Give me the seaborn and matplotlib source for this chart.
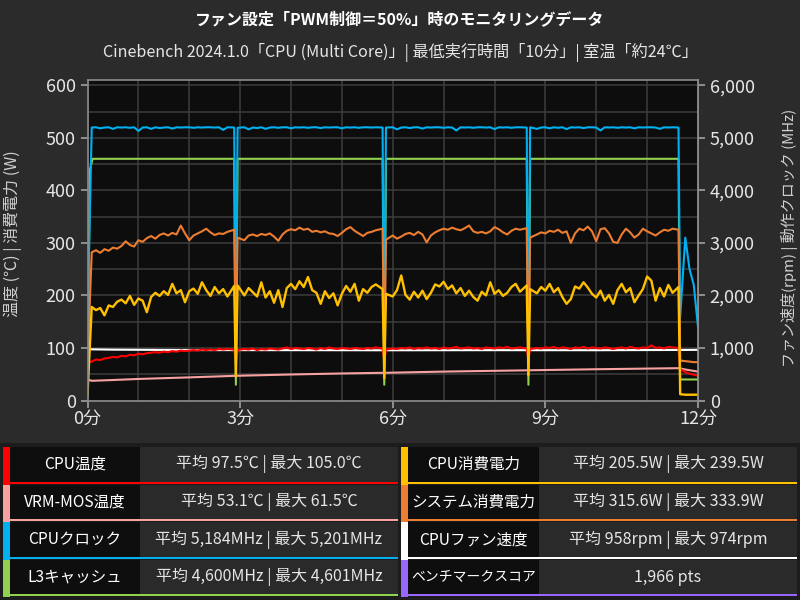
import numpy as np
import matplotlib
matplotlib.use("Agg")
import matplotlib.pyplot as plt
import seaborn as sns
from matplotlib.patches import Rectangle

# --- data (about 5 s sampling, 0-720 s) ---
time_sec = np.arange(0, 725, 5).astype(float)
# samples around the short load gaps and the end were logged closer together
for i, t in [(34, 173), (36, 177), (69, 348), (71, 352), (103, 518), (105, 522),
             (139, 697), (140, 699)]:
    time_sec[i] = t

sys_power = [
    72, 282, 286, 281, 288, 285, 291, 289, 294, 303, 296, 293, 305, 302, 309, 313, 308, 315, 318, 314,
    319, 316, 333, 318, 305, 314, 318, 322, 327, 320, 315, 318, 317, 321, 325, 72, 310, 305, 314, 316,
    313, 317, 315, 318, 312, 304, 316, 323, 326, 324, 329, 325, 327, 321, 323, 320, 322, 318, 317, 313,
    319, 326, 330, 323, 318, 313, 319, 321, 324, 327, 70, 306, 314, 308, 312, 317, 319, 315, 321, 316,
    301, 314, 320, 324, 327, 325, 329, 326, 324, 328, 333, 322, 319, 321, 318, 322, 330, 326, 320, 316,
    323, 327, 325, 328, 74, 310, 316, 320, 318, 323, 321, 325, 319, 322, 300, 318, 327, 324, 331, 322,
    303, 326, 328, 318, 302, 300, 316, 327, 320, 310, 316, 327, 322, 318, 314, 320, 325, 323, 327, 325,
    76, 75, 74, 73, 73]

cpu_power = [
    10, 178, 172, 176, 162, 181, 178, 188, 192, 185, 199, 182, 194, 190, 168, 197, 205, 199, 208, 201,
    222, 204, 210, 187, 208, 213, 203, 225, 210, 199, 216, 204, 212, 198, 218, 45, 219, 200, 214, 206,
    198, 225, 196, 208, 186, 210, 178, 214, 222, 212, 227, 216, 235, 210, 205, 184, 208, 195, 204, 181,
    203, 218, 207, 222, 190, 212, 205, 216, 221, 212, 42, 203, 198, 210, 238, 201, 192, 207, 196, 209,
    193, 205, 221, 217, 226, 212, 219, 204, 214, 199, 209, 197, 190, 207, 200, 225, 203, 210, 199, 205,
    216, 222, 207, 219, 48, 212, 204, 216, 209, 222, 206, 214, 197, 184, 193, 217, 213, 225, 215, 203,
    196, 209, 190, 201, 184, 210, 222, 206, 214, 187, 200, 212, 236, 228, 190, 214, 198, 220, 205, 216,
    12, 11, 11, 11, 11]

cpu_temp = [
    73, 74, 78, 77, 80, 81, 83, 82, 85, 84, 87, 86, 89, 88, 90, 91, 92, 91, 93, 92,
    94, 93, 95, 94, 95, 96, 95, 97, 96, 97, 96, 98, 97, 98, 97, 75, 96, 98, 97, 99,
    96, 98, 97, 99, 98, 97, 99, 101, 98, 100, 99, 98, 100, 99, 97, 100, 98, 101, 99, 98,
    100, 99, 98, 100, 99, 98, 100, 99, 101, 99, 76, 97, 99, 98, 100, 99, 101, 98, 100, 99,
    101, 99, 100, 98, 101, 99, 100, 102, 99, 100, 101, 99, 100, 98, 101, 100, 99, 101, 100, 102,
    99, 100, 101, 99, 78, 98, 100, 99, 101, 100, 102, 99, 101, 100, 98, 101, 100, 102, 99, 101,
    100, 99, 101, 100, 98, 100, 101, 99, 102, 100, 99, 101, 100, 105, 100, 101, 99, 102, 101, 100,
    60, 54, 51, 49, 47]

cpu_clock = [
    1500, 5195, 5200, 5180, 5195, 5200, 5170, 5200, 5195, 5200, 5190, 5200, 5130, 5195, 5200, 5170, 5200, 5185, 5195, 5200,
    5175, 5200, 5195, 5200, 5200, 5190, 5200, 5195, 5200, 5200, 5195, 5200, 5150, 5200, 5195, 700, 5190, 5200, 5160, 5195,
    5185, 5200, 5170, 5195, 5200, 5190, 5200, 5200, 5180, 5200, 5195, 5200, 5190, 5200, 5200, 5185, 5200, 5195, 5200, 5200,
    5180, 5200, 5195, 5200, 5190, 5200, 5200, 5195, 5200, 5195, 650, 5195, 5200, 5160, 5195, 5200, 5185, 5200, 5200, 5175,
    5200, 5195, 5200, 5200, 5190, 5200, 5195, 5140, 5200, 5195, 5200, 5190, 5200, 5200, 5195, 5200, 5165, 5200, 5195, 5200,
    5190, 5200, 5200, 5195, 600, 5200, 5170, 5195, 5200, 5180, 5200, 5190, 5200, 5165, 5200, 5195, 5200, 5185, 5200, 5200,
    5195, 5140, 5200, 5195, 5200, 5190, 5200, 5195, 5200, 5180, 5200, 5195, 5200, 5200, 5195, 5170, 5200, 5195, 5200, 5195,
    1600, 3100, 2500, 2200, 1400]

l3_time = [0, 3, 6, 173, 175, 177, 348, 350, 352, 518, 520, 522, 697, 699, 720]
l3_clock = [800, 4400, 4600, 4600, 300, 4600, 4600, 300, 4600, 4600, 300, 4600, 4600, 400, 400]

fan_time = [0, 30, 120, 240, 360, 480, 600, 700, 720]
fan_rpm = [975, 968, 960, 958, 956, 958, 957, 962, 964]

vrm_time = [0, 5, 30, 60, 120, 175, 240, 300, 360, 420, 480, 540, 600, 697, 705, 720]
vrm_temp = [40, 37.5, 39, 41, 44, 47, 49.5, 51.5, 53, 55, 56.5, 58, 59.5, 61.5, 59, 55]

x_ticks = [0, 3, 6, 9, 12]
x_labels = ["0分", "3分", "6分", "9分", "12分"]

left_names = ["CPU温度", "VRM-MOS温度", "CPUクロック", "L3キャッシュ"]
left_values = ["平均 97.5℃ | 最大 105.0℃", "平均 53.1℃ | 最大 61.5℃",
               "平均 5,184MHz | 最大 5,201MHz", "平均 4,600MHz | 最大 4,601MHz"]
right_names = ["CPU消費電力", "システム消費電力", "CPUファン速度", "ベンチマークスコア"]
right_values = ["平均 205.5W | 最大 239.5W", "平均 315.6W | 最大 333.9W",
                "平均 958rpm | 最大 974rpm", "1,966 pts"]

c_red, c_pink, c_blue, c_green = "#ff0000", "#f7a1a1", "#00b0f0", "#92d050"
c_yellow, c_orange, c_white, c_purple = "#ffc000", "#ed7d31", "#ffffff", "#9966ff"
left_colors = [c_red, c_pink, c_blue, c_green]
right_colors = [c_yellow, c_orange, c_white, c_purple]

# --- style ---
sns.set_theme(style="dark")
plt.rcParams["font.family"] = ["Noto Sans CJK JP", "DejaVu Sans"]
BG = "#2b2b2b"
TXT = "#e6e6e6"

W, H = 800, 600
fig = plt.figure(figsize=(8, 6), dpi=100, facecolor=BG)
ax = fig.add_axes([87.5 / W, 1 - 400.5 / H, 610.5 / W, 320.5 / H])
ax.set_facecolor("#0d0d0d")


def draw(ts, vals, color, scale=1.0, lw=1.5):
    sns.lineplot(x=np.asarray(ts) / 60, y=np.asarray(vals, dtype=float) / scale,
                 color=color, linewidth=lw, ax=ax, estimator=None)


draw(l3_time, l3_clock, c_green, 10)
draw(time_sec, cpu_clock, c_blue, 10)
draw(fan_time, fan_rpm, c_white, 10)
draw(vrm_time, vrm_temp, c_pink)
draw(time_sec, cpu_temp, c_red)
draw(time_sec, sys_power, c_orange)
draw(time_sec, cpu_power, c_yellow, lw=1.7)

ax.set_xlim(0, 12)
ax.set_ylim(0, 610)
ax.set_xticks(x_ticks)
ax.set_xticklabels(x_labels)
ax.set_xticks(range(13), minor=True)
ax.set_yticks(range(0, 601, 100))
ax.set_yticks(range(50, 601, 100), minor=True)
ax.grid(True, which="both", color="#3d3d3d", linewidth=1.1)
ax.tick_params(axis="both", which="major", colors="#a0a0a0", labelcolor=TXT,
               labelsize=13, length=5, width=1.2, direction="out",
               left=True, bottom=True)
ax.tick_params(axis="both", which="minor", length=0)
ax.tick_params(axis="x", pad=2)
ax.set_xlabel("")
ax.set_ylabel("")
for s in ax.spines.values():
    s.set_color("#8c8c8c")
    s.set_linewidth(1.2)
    s.set_visible(True)

sec = ax.secondary_yaxis("right", functions=(lambda v: v * 10, lambda v: v / 10))
sec.set_yticks(range(0, 6001, 1000))
sec.set_yticklabels([f"{v:,}" for v in range(0, 6001, 1000)])
sec.tick_params(colors="#a0a0a0", labelcolor=TXT, labelsize=13, length=5, width=1.2)
sec.spines["right"].set_color("#8c8c8c")

# axis titles
fig.text(13 / W, 1 - 234 / H, "温度 (℃) | 消費電力 (W)", rotation=90,
         ha="center", va="center", color="#d0d0d0", fontsize=11.5)
fig.text(789 / W, 1 - 238 / H, "ファン速度(rpm) | 動作クロック (MHz)", rotation=90,
         ha="center", va="center", color="#d0d0d0", fontsize=10.8)

# --- titles ---
fig.text(0.5, 1 - 20 / H, "ファン設定「PWM制御＝50%」時のモニタリングデータ",
         ha="center", va="center", color="white", fontsize=11.5, fontweight="bold")
fig.text(0.5, 1 - 52 / H, "Cinebench 2024.1.0「CPU (Multi Core)」| 最低実行時間「10分」| 室温「約24℃」",
         ha="center", va="center", color=TXT, fontsize=11.6)


# --- summary table ---
def rect(x0, y0, x1, y1, color):
    fig.add_artist(Rectangle((x0 / W, 1 - y1 / H), (x1 - x0) / W, (y1 - y0) / H,
                             transform=fig.transFigure, facecolor=color,
                             edgecolor="none", zorder=1))


renderer = fig.canvas.get_renderer()
rect(0, 443, W, H, "#1c1c1c")
row_h = 37.6
for col, (names, values, colors) in enumerate([(left_names, left_values, left_colors),
                                                (right_names, right_values, right_colors)]):
    xb = 3 if col == 0 else 401
    xl = xb + 7
    xm = 140 if col == 0 else 539
    xr = 398 if col == 0 else 797
    for i in range(4):
        top = 447 + i * row_h
        bot = top + row_h - 1
        rect(xb, top, xl, bot + 1, colors[i])
        rect(xl, top, xm, bot - 2, "#0e0e0e")
        rect(xm, top, xr, bot - 2, "#2a2a2a")
        rect(xl, bot - 2, xr, bot, colors[i])
        yc = 1 - (top + bot - 2) / 2 / H
        name = fig.text((xl + xm) / 2 / W, yc, names[i], ha="center", va="center",
                        color="white", fontsize=11.2)
        wpx = name.get_window_extent(renderer).width
        if wpx > 124:
            name.set_fontsize(11.2 * 124 / wpx)
        fig.text((xm + xr) / 2 / W, yc, values[i], ha="center", va="center",
                 color=TXT, fontsize=11.5)

fig.savefig("out.png", dpi=100, facecolor=BG)
